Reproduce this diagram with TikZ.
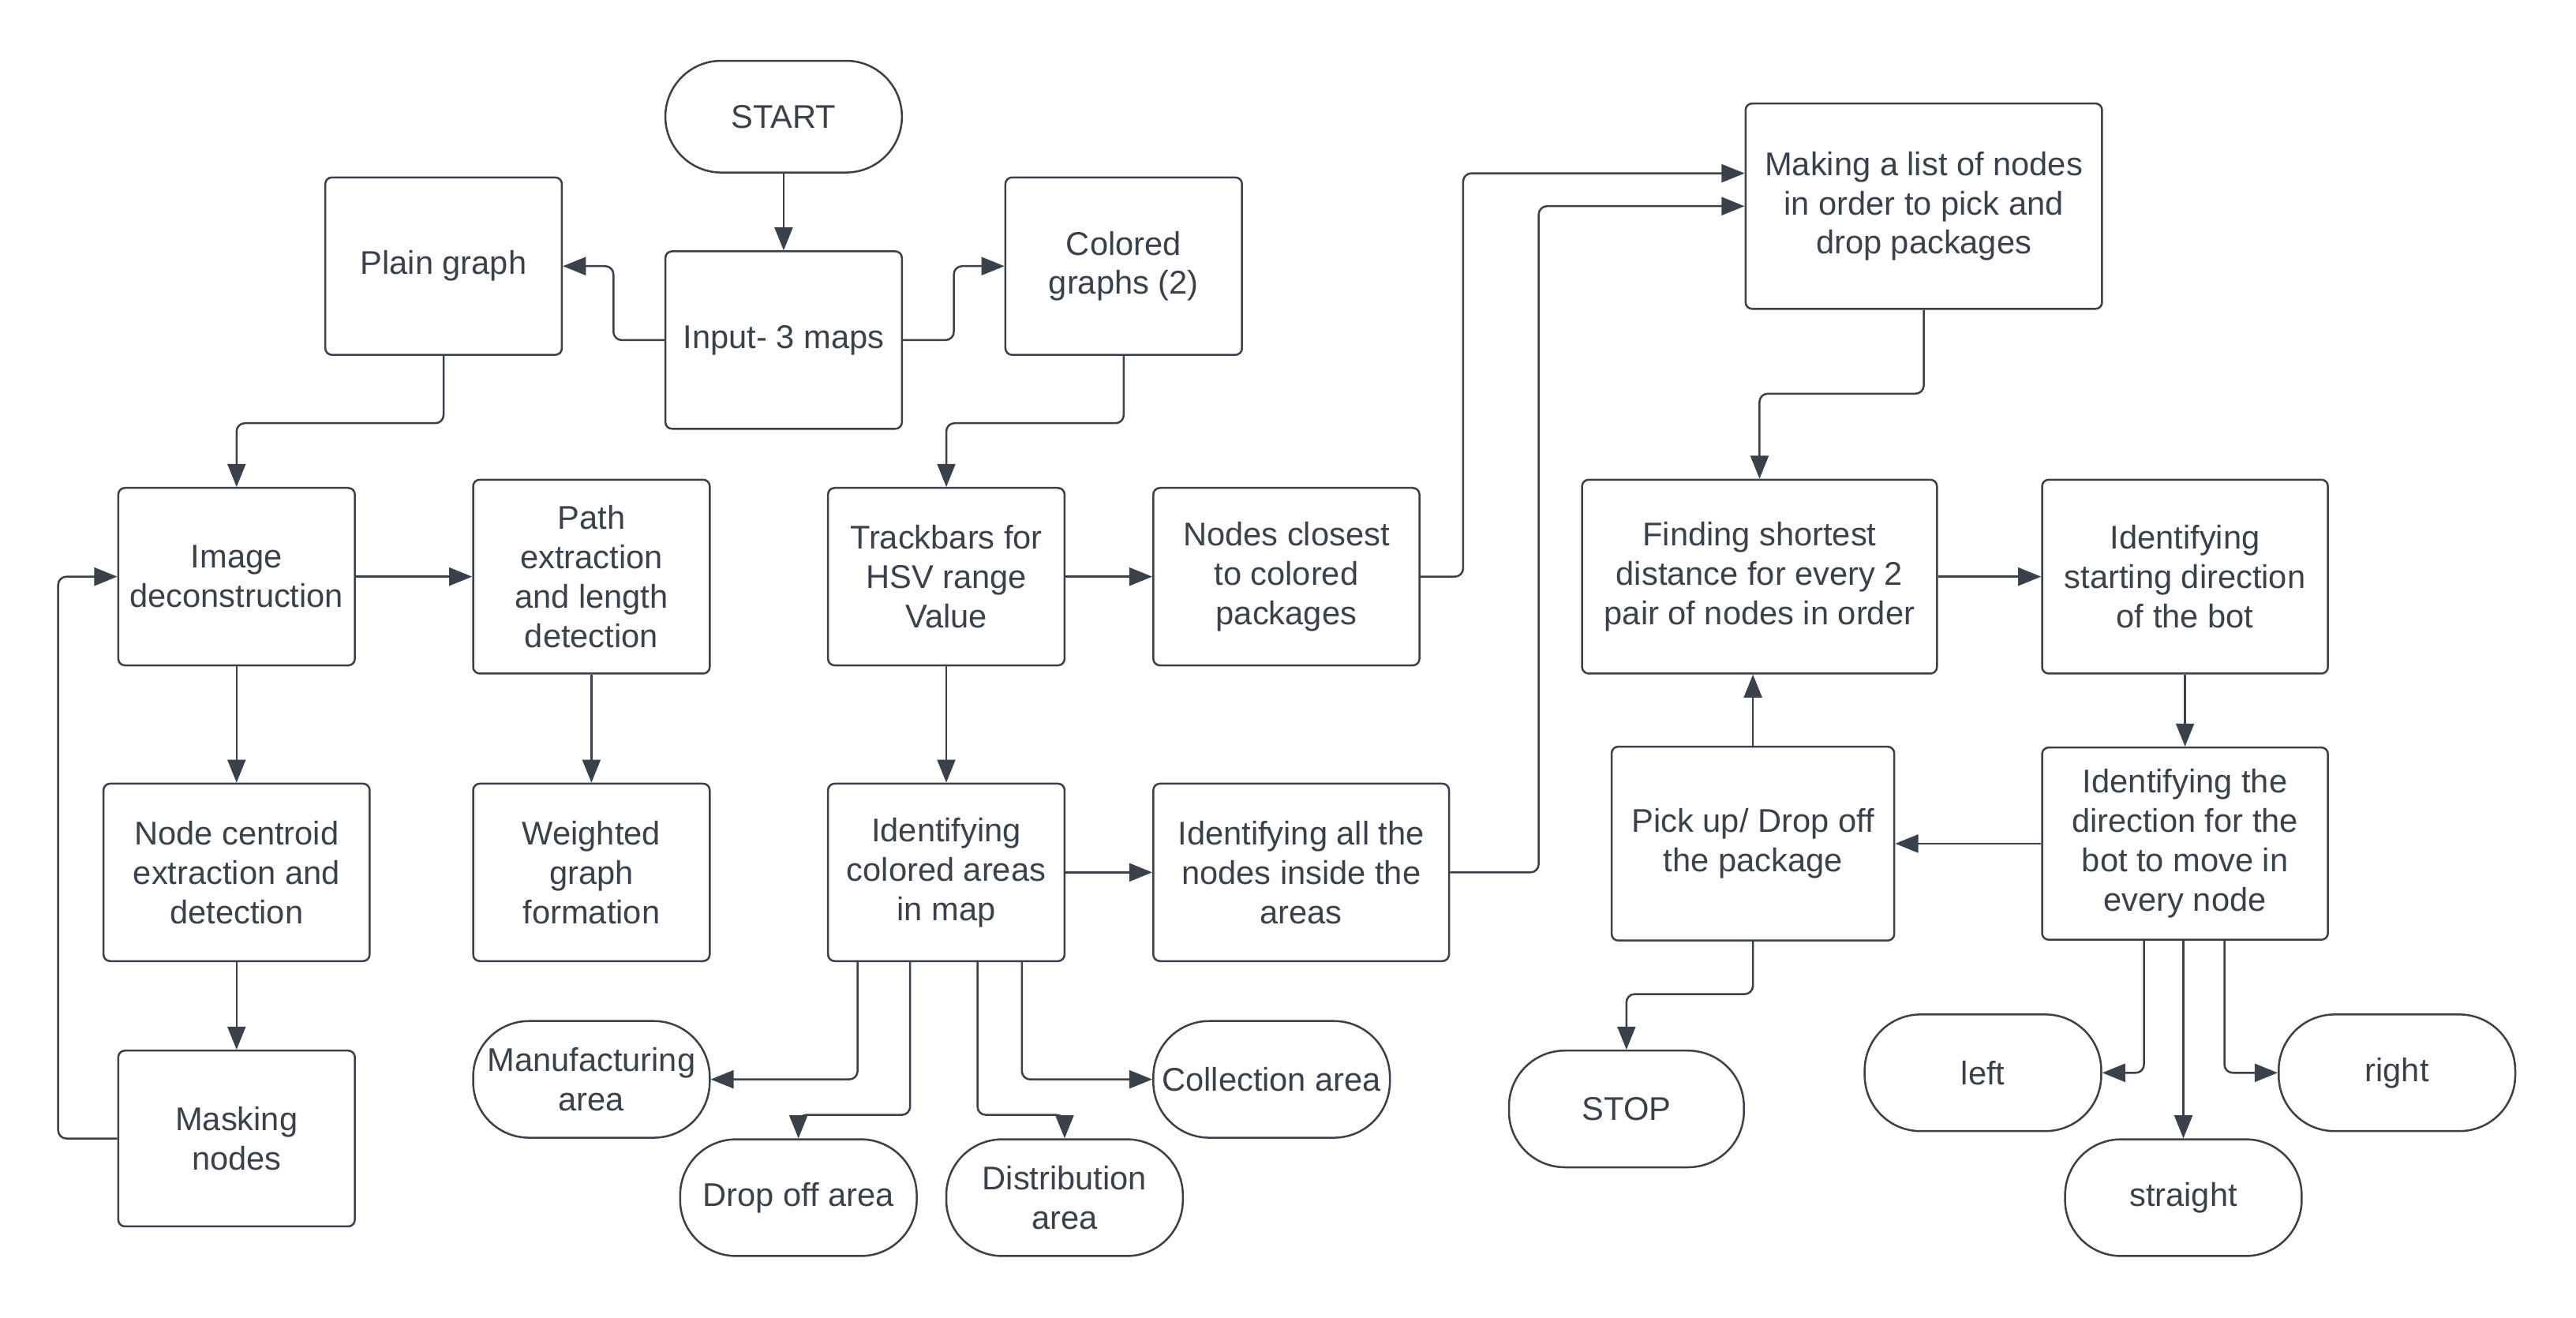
\documentclass[tikz,border=0pt]{standalone}
\usepackage{fontspec}
\setmainfont{Liberation Sans}
\usetikzlibrary{arrows.meta}
\definecolor{ink}{HTML}{3A414A}

\begin{document}
\begin{tikzpicture}[x=0.5pt, y=-0.5pt,
  box/.style={rectangle, rounded corners=2pt, draw=ink, line width=0.6pt, text=ink,
    align=center, inner sep=2pt, font=\fontsize{10}{12}\selectfont,
    minimum width=72pt, minimum height=54pt},
  term/.style={box, rounded corners=17pt, minimum height=35.5pt},
  link/.style={->, draw=ink, line width=0.6pt, rounded corners=2.5pt},
  >={Triangle[length=7pt, width=5.5pt]}]
\fill[white] (0,0) rectangle (1568,802);
\useasboundingbox (0,0) rectangle (1568,802);

\node[term, minimum height=34pt] (1) at (477,71) {START};
\node[box] (2) at (477,207) {Input- 3 maps};
\node[box] (3) at (270,162) {Plain graph};
\node[box] (4) at (684,162) {Colored\\graphs (2)};
\node[box] (5) at (144,351) {Image\\deconstruction};
\node[box, minimum height=59pt] (6) at (360,351) {Path\\extraction\\and length\\detection};
\node[box, minimum width=81pt] (7) at (144,531) {Node centroid\\extraction and\\detection};
\node[box] (8) at (360,531) {Weighted\\graph\\formation};
\node[box, minimum height=53.5pt] (9) at (144,693) {Masking\\nodes};
\node[box] (10) at (576,351) {Trackbars for\\HSV range\\Value};
\node[box, minimum width=81pt] (11) at (783,351) {Nodes closest\\to colored\\packages};
\node[box] (12) at (576,531) {Identifying\\colored areas\\in map};
\node[box, minimum width=90pt] (13) at (792,531) {Identifying all the\\nodes inside the\\areas};
\node[term] (14) at (360,657) {Manufacturing\\area};
\node[term] (15) at (486,729) {Drop off area};
\node[term] (16) at (648,729) {Distribution\\area};
\node[term] (17) at (774,657) {Collection area};
\node[box, minimum width=108.5pt, minimum height=62.5pt] (18) at (1171,125.5) {Making a list of nodes\\in order to pick and\\drop packages};
\node[box, minimum width=108pt, minimum height=59pt] (19) at (1071,351) {Finding shortest\\distance for every 2\\pair of nodes in order};
\node[box, minimum width=87pt, minimum height=59pt] (20) at (1330,351) {Identifying\\starting direction\\of the bot};
\node[box, minimum width=87pt, minimum height=58.5pt] (21) at (1330,513.5) {Identifying the\\direction for the\\bot to move in\\every node};
\node[box, minimum width=86pt, minimum height=59pt] (22) at (1067,513.5) {Pick up/ Drop off\\the package};
\node[term, minimum width=71.5pt] (23) at (990,675) {STOP};
\node[term] (24) at (1207,653) {left};
\node[term] (25) at (1329,729) {straight};
\node[term] (26) at (1459,653) {right};

\draw[link] (1) -- (2);
\draw[link] (2.west) -- ++(-31,0) |- (3.east);
\draw[link] (2.east) -- ++(31,0) |- (4.west);
\draw[link] (3.south) -- ++(0,41) -| (5.north);
\draw[link] (4.south) -- ++(0,41) -| (10.north);
\draw[link] (5) -- (6);
\draw[link] (5) -- (7);
\draw[link] (7) -- (9);
\draw[link] (9.west) -- ++(-36,0) |- (5.west);
\draw[link] (6) -- (8);
\draw[link] (10) -- (11);
\draw[link] (10) -- (12);
\draw[link] (12) -- (13);
\draw[link] (11.east) -- ++(26,0) |- ([yshift=10pt]18.west);
\draw[link] (13.east) -- ++(54,0) |- (18.west);
\draw[link] ([xshift=-27pt]12.south) |- (14.east);
\draw[link] ([xshift=-11pt]12.south) -- ++(0,93) -| (15.north);
\draw[link] ([xshift=9.5pt]12.south) -- ++(0,93) -| (16.north);
\draw[link] ([xshift=23pt]12.south) |- (17.west);
\draw[link] (18.south) -- ++(0,51) -| (19.north);
\draw[link] (19) -- (20);
\draw[link] (20) -- (21);
\draw[link] (21) -- (22);
\draw[link] (22.north) -- (22.north |- 19.south);
\draw[link] (22.south) -- ++(0,32) -| (23.north);
\draw[link] ([xshift=-12.5pt]21.south) |- (24.east);
\draw[link] (21.south -| 25.north) -- (25.north);
\draw[link] ([xshift=12pt]21.south) |- (26.west);
\end{tikzpicture}
\end{document}
